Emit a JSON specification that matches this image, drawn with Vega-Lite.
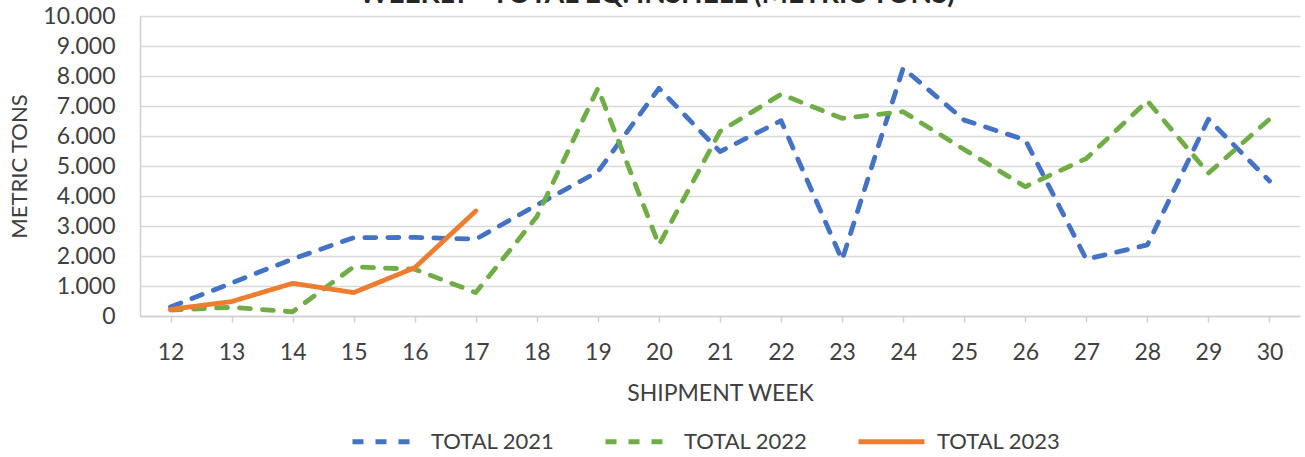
{
  "$schema": "https://vega.github.io/schema/vega-lite/v6.json",
  "width": 1160,
  "height": 300,
  "autosize": {"type": "none"},
  "padding": {"left": 140, "top": 16, "right": 5, "bottom": 141},
  "background": "white",
  "title": {
    "text": "WEEKLY - TOTAL EQ. INSHELL (METRIC TONS)",
    "fontSize": 28,
    "fontWeight": "bold",
    "font": "Lato",
    "color": "#262626",
    "anchor": "middle",
    "baseline": "alphabetic",
    "dx": -63,
    "dy": 26,
    "offset": 0
  },
  "config": {
    "font": "Lato",
    "view": {"stroke": null}
  },
  "data": {
    "values": [
      {"week": 12, "series": "TOTAL 2021", "value": 300},
      {"week": 13, "series": "TOTAL 2021", "value": 1100},
      {"week": 14, "series": "TOTAL 2021", "value": 1900},
      {"week": 15, "series": "TOTAL 2021", "value": 2610},
      {"week": 16, "series": "TOTAL 2021", "value": 2620},
      {"week": 17, "series": "TOTAL 2021", "value": 2560},
      {"week": 18, "series": "TOTAL 2021", "value": 3700},
      {"week": 19, "series": "TOTAL 2021", "value": 4810},
      {"week": 20, "series": "TOTAL 2021", "value": 7590},
      {"week": 21, "series": "TOTAL 2021", "value": 5480},
      {"week": 22, "series": "TOTAL 2021", "value": 6510},
      {"week": 23, "series": "TOTAL 2021", "value": 1870},
      {"week": 24, "series": "TOTAL 2021", "value": 8260},
      {"week": 25, "series": "TOTAL 2021", "value": 6530},
      {"week": 26, "series": "TOTAL 2021", "value": 5870},
      {"week": 27, "series": "TOTAL 2021", "value": 1890},
      {"week": 28, "series": "TOTAL 2021", "value": 2370},
      {"week": 29, "series": "TOTAL 2021", "value": 6560},
      {"week": 30, "series": "TOTAL 2021", "value": 4500},
      {"week": 12, "series": "TOTAL 2022", "value": 200},
      {"week": 13, "series": "TOTAL 2022", "value": 290},
      {"week": 14, "series": "TOTAL 2022", "value": 140},
      {"week": 15, "series": "TOTAL 2022", "value": 1640},
      {"week": 16, "series": "TOTAL 2022", "value": 1560},
      {"week": 17, "series": "TOTAL 2022", "value": 780},
      {"week": 18, "series": "TOTAL 2022", "value": 3310},
      {"week": 19, "series": "TOTAL 2022", "value": 7590},
      {"week": 20, "series": "TOTAL 2022", "value": 2370},
      {"week": 21, "series": "TOTAL 2022", "value": 6150},
      {"week": 22, "series": "TOTAL 2022", "value": 7390},
      {"week": 23, "series": "TOTAL 2022", "value": 6590},
      {"week": 24, "series": "TOTAL 2022", "value": 6810},
      {"week": 25, "series": "TOTAL 2022", "value": 5550},
      {"week": 26, "series": "TOTAL 2022", "value": 4310},
      {"week": 27, "series": "TOTAL 2022", "value": 5250},
      {"week": 28, "series": "TOTAL 2022", "value": 7170},
      {"week": 29, "series": "TOTAL 2022", "value": 4760},
      {"week": 30, "series": "TOTAL 2022", "value": 6560},
      {"week": 12, "series": "TOTAL 2023", "value": 220},
      {"week": 13, "series": "TOTAL 2023", "value": 480},
      {"week": 14, "series": "TOTAL 2023", "value": 1090},
      {"week": 15, "series": "TOTAL 2023", "value": 780},
      {"week": 16, "series": "TOTAL 2023", "value": 1610},
      {"week": 17, "series": "TOTAL 2023", "value": 3500}
    ]
  },
  "mark": {"type": "line", "strokeWidth": 4.8, "strokeCap": "round", "strokeJoin": "round"},
  "encoding": {
    "x": {
      "field": "week",
      "type": "ordinal",
      "scale": {"type": "point", "padding": 0.5},
      "axis": {
        "title": "SHIPMENT WEEK",
        "labelAngle": 0,
        "labelFontSize": 23,
        "labelColor": "#404040",
        "labelPadding": 19,
        "titleFontSize": 23,
        "titleFontWeight": "normal",
        "titleColor": "#404040",
        "titlePadding": 18,
        "domainColor": "#d0d0d0",
        "domainWidth": 1.5,
        "tickColor": "#d0d0d0",
        "tickWidth": 1.5,
        "tickSize": 6,
        "grid": false
      }
    },
    "y": {
      "field": "value",
      "type": "quantitative",
      "scale": {"domain": [0, 10000], "nice": false},
      "axis": {
        "title": "METRIC TONS",
        "values": [0, 1000, 2000, 3000, 4000, 5000, 6000, 7000, 8000, 9000, 10000],
        "labelExpr": "replace(format(datum.value, ','), ',', '.')",
        "labelFontSize": 23,
        "labelColor": "#404040",
        "labelPadding": 25,
        "ticks": false,
        "titleFontSize": 22,
        "titleFontWeight": "normal",
        "titleColor": "#404040",
        "titlePadding": 11,
        "domainColor": "#d0d0d0",
        "domainWidth": 1.5,
        "gridColor": "#d9d9d9",
        "gridWidth": 1.5
      }
    },
    "color": {
      "field": "series",
      "type": "nominal",
      "scale": {
        "domain": ["TOTAL 2021", "TOTAL 2022", "TOTAL 2023"],
        "range": ["#4472C4", "#70AD47", "#ED7D31"]
      },
      "legend": {
        "title": null,
        "orient": "none",
        "legendX": 210,
        "legendY": 390,
        "direction": "horizontal",
        "symbolType": "stroke",
        "symbolSize": 4356,
        "symbolStrokeWidth": 4.8,
        "labelFontSize": 22,
        "labelColor": "#404040",
        "labelOffset": 10,
        "columnPadding": 40
      }
    },
    "strokeDash": {
      "field": "series",
      "type": "nominal",
      "scale": {
        "domain": ["TOTAL 2021", "TOTAL 2022", "TOTAL 2023"],
        "range": [[11, 12], [11, 12], [1, 0]]
      },
      "legend": {
        "title": null,
        "orient": "none",
        "legendX": 210,
        "legendY": 390,
        "direction": "horizontal",
        "symbolType": "stroke",
        "symbolSize": 4356,
        "symbolStrokeWidth": 4.8,
        "labelFontSize": 22,
        "labelColor": "#404040",
        "labelOffset": 10,
        "columnPadding": 40
      }
    }
  }
}
